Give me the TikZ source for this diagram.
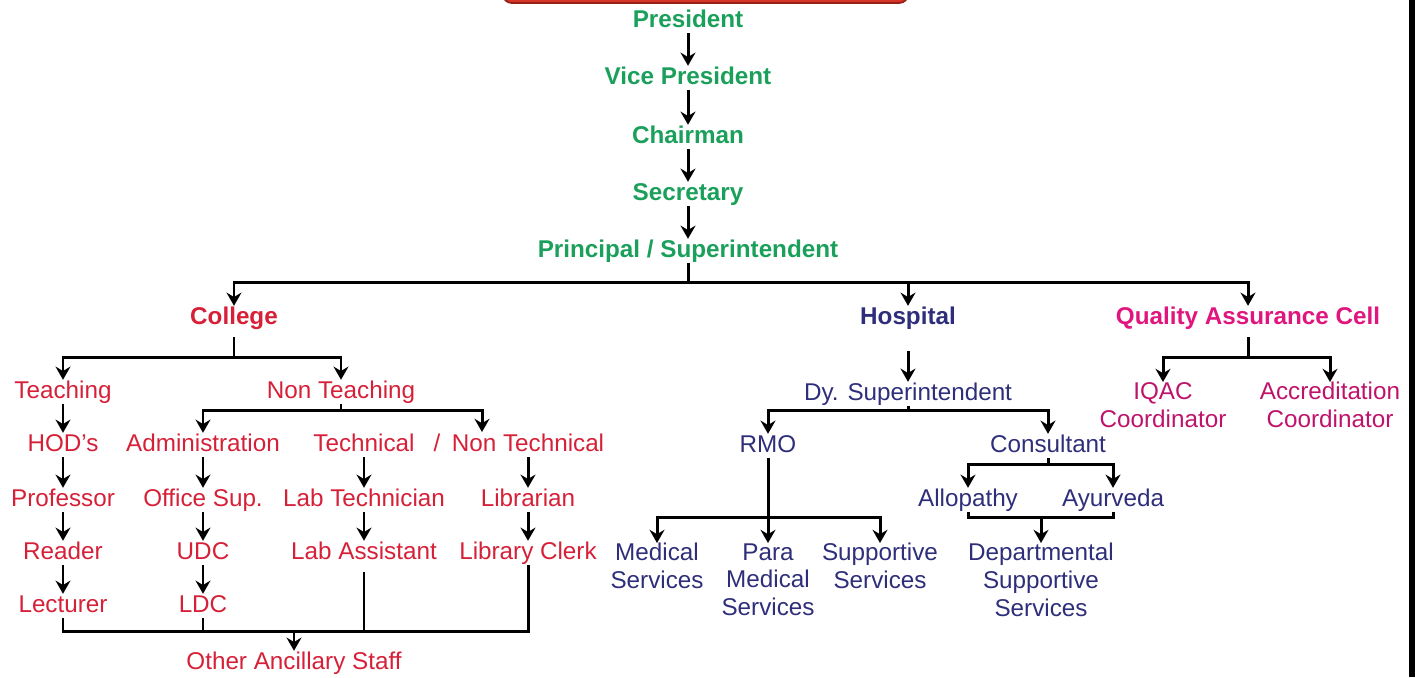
\documentclass[tikz,border=0pt]{standalone}
\usepackage{fontspec}
\setmainfont{Liberation Sans}
\usetikzlibrary{positioning}
\usetikzlibrary{arrows.meta}
\definecolor{topgreen}{RGB}{27,160,92}
\definecolor{collred}{RGB}{214,32,56}
\definecolor{hospblue}{RGB}{46,46,122}
\definecolor{qacpink}{RGB}{224,22,126}
\definecolor{boxred}{RGB}{214,52,40}
\definecolor{boxdark}{RGB}{150,32,22}
\tikzset{post/.style={inner sep=0pt, text height=10.5pt, text depth=3pt, font=\fontsize{13.8}{16}\selectfont}}
\tikzset{headpost/.style={post, font=\fontsize{13.8}{16}\selectfont\bfseries}}
\tikzset{multipost/.style={inner sep=0pt, anchor=north, align=center, font=\fontsize{13.8}{15.9}\selectfont}}
\tikzset{link/.style={line width=1.7pt, -{Stealth[length=7.5pt,width=8.5pt,inset=2.5pt]}}}
\tikzset{plain/.style={line width=1.7pt}}

\begin{document}
\begin{tikzpicture}[x=0.02cm, y=-0.02cm]
    \useasboundingbox (0,0) rectangle (1415,677);
    % top banner (cut off) and right edge strip
    \filldraw[fill=boxred, draw=boxdark, line width=1pt, rounded corners=5pt] (503,-20) rectangle (908,3);
    \fill[black] (1409,0) rectangle (1415,677);

    % main chain
    \node [headpost, topgreen](pres) at (688,21) {President};
    \node [headpost, topgreen](vpres) at (688,78) {Vice President};
    \node [headpost, topgreen](chair) at (688,137) {Chairman};
    \node [headpost, topgreen](secr) at (688,194) {Secretary};
    \node [headpost, topgreen](prin) at (688,251) {Principal / Superintendent};
    \coordinate (mainbar) at (0,282);

    \node [headpost, collred](coll) at (234,318) {College};
    \node [headpost, hospblue](hosp) at (908,318) {Hospital};
    \node [headpost, qacpink](qac) at (1248,318) {Quality Assurance Cell};

    % college
    \coordinate (collbar) at (0,357);
    \node [post, collred](teach) at (63,392) {Teaching};
    \node [post, collred](nont) at (341,392) {Non Teaching};
    \coordinate (ntbar) at (0,410);
    \node [post, collred](hod) at (63,445) {HOD's};
    \node [post, collred](admin) at (203,445) {Administration};
    \node [post, collred](tech) at (364,445) {Technical};
    \node [post, collred](slash) at (437,445) {/};
    \node [post, collred](nontech) at (528,445) {Non Technical};
    \coordinate (tnt) at (482,432);
    \node [post, collred](prof) at (63,500) {Professor};
    \node [post, collred](offsup) at (203,500) {Office Sup.};
    \node [post, collred](labtech) at (364,500) {Lab Technician};
    \node [post, collred](libr) at (528,500) {Librarian};
    \node [post, collred](reader) at (63,553) {Reader};
    \node [post, collred](udc) at (203,553) {UDC};
    \node [post, collred](labasst) at (364,553) {Lab Assistant};
    \node [post, collred](libclerk) at (528,553) {Library Clerk};
    \node [post, collred](lect) at (63,606) {Lecturer};
    \node [post, collred](ldc) at (203,606) {LDC};
    \coordinate (ancbar) at (0,631);
    \node [post, collred](anc) at (294,663) {Other Ancillary Staff};

    % hospital
    \node [post, hospblue](dysup) at (908,394) {Dy. Superintendent};
    \coordinate (dsbar) at (0,410);
    \node [post, hospblue](rmo) at (768,446) {RMO};
    \node [post, hospblue](cons) at (1048,446) {Consultant};
    \coordinate (consbar) at (0,464);
    \node [post, hospblue](allo) at (968,500) {Allopathy};
    \node [post, hospblue](ayur) at (1113,500) {Ayurveda};
    \coordinate (aabar) at (0,517);
    \coordinate (rmobar) at (0,517);
    \node [multipost, hospblue](med) at (657,543) {Medical\\Services};
    \node [multipost, hospblue](para) at (768,543) {Para\\Medical\\Services};
    \node [multipost, hospblue](supp) at (880,543) {Supportive\\Services};
    \node [multipost, hospblue](dept) at (1041,543) {Departmental\\Supportive\\Services};

    % quality assurance cell
    \coordinate (qacbar) at (0,357);
    \node [multipost, qacpink!85!black](iqac) at (1163,382) {IQAC\\Coordinator};
    \node [multipost, qacpink!85!black](accr) at (1330,382) {Accreditation\\Coordinator};

    % connectors: main chain
    \draw[link] (pres) -- (vpres);
    \draw[link] (vpres) -- (chair);
    \draw[link] (chair) -- (secr);
    \draw[link] (secr) -- (prin);
    \draw[link] (prin) -- (prin |- mainbar) -| (coll);
    \draw[link] (prin |- mainbar) -| (hosp);
    \draw[link] (prin |- mainbar) -| (qac);

    % connectors: college
    \draw[link, shorten <=4pt] (coll) -- (coll |- collbar) -| (teach);
    \draw[link] (coll |- collbar) -| (nont);
    \draw[link] (teach) -- (hod);
    \draw[link] (hod) -- (prof);
    \draw[link] (prof) -- (reader);
    \draw[link] (reader) -- (lect);
    \draw[link] (nont) -- (nont |- ntbar) -| (admin);
    \draw[link] (nont |- ntbar) -| (tnt);
    \draw[link] (admin) -- (offsup);
    \draw[link] (offsup) -- (udc);
    \draw[link] (udc) -- (ldc);
    \draw[link] (tech) -- (labtech);
    \draw[link] (labtech) -- (labasst);
    \draw[link] (nontech) -- (libr);
    \draw[link] (libr) -- (libclerk);
    \draw[plain] (lect) -- (lect |- ancbar) -- (libclerk |- ancbar) -- (libclerk);
    \draw[plain] (ldc) -- (ldc |- ancbar);
    \draw[plain, shorten <=4pt] (labasst) -- (labasst |- ancbar);
    \draw[link] (anc |- ancbar) -- (anc);

    % connectors: hospital
    \draw[link, shorten <=12pt] (hosp) -- (dysup);
    \draw[link] (dysup) -- (dysup |- dsbar) -| (rmo);
    \draw[link] (dysup |- dsbar) -| (cons);
    \draw[link] (rmo) -- (para);
    \draw[link] (rmo |- rmobar) -| (med);
    \draw[link] (rmo |- rmobar) -| (supp);
    \draw[link] (cons) -- (cons |- consbar) -| (allo);
    \draw[link] (cons |- consbar) -| (ayur);
    \draw[plain] (allo) -- (allo |- aabar) -- (ayur |- aabar) -- (ayur);
    \draw[link] (dept |- aabar) -- (dept);

    % connectors: quality assurance cell
    \draw[link, shorten <=4pt] (qac) -- (qac |- qacbar) -| (iqac);
    \draw[link] (qac |- qacbar) -| (accr);
\end{tikzpicture}
\end{document}
